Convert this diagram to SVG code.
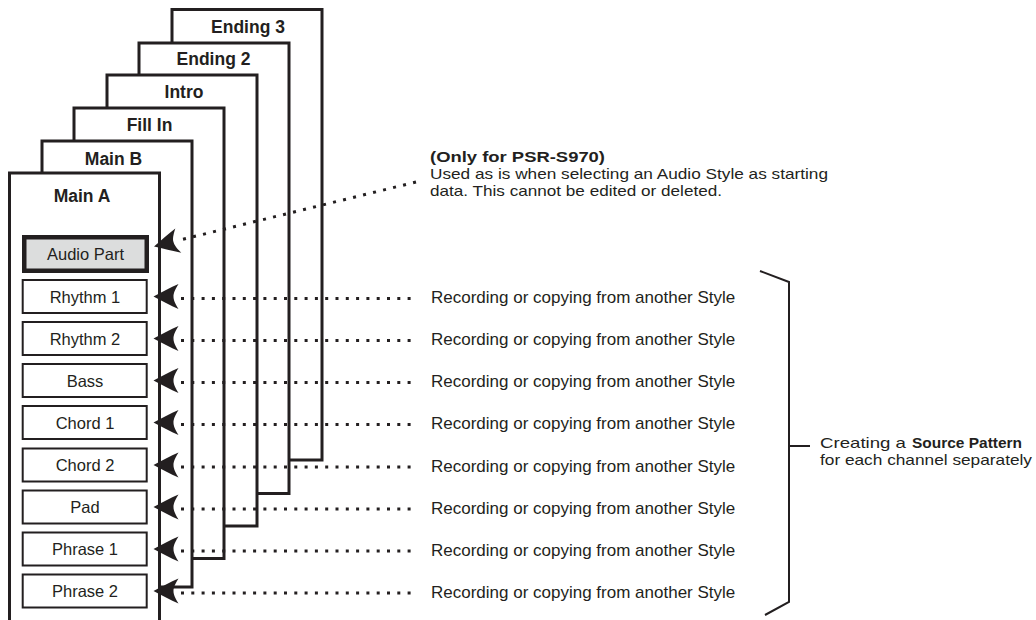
<svg xmlns="http://www.w3.org/2000/svg" xmlns:xlink="http://www.w3.org/1999/xlink" width="1036" height="620" viewBox="0 0 1036 620">
<style>
  .page { fill: #ffffff; stroke: #231f20; stroke-width: 3; }
  .title { font-family: "Liberation Sans", Arial, Helvetica, sans-serif; font-size: 17.5px; font-weight: bold; fill: #231f20; text-anchor: middle; }
  .box { fill: #ffffff; stroke: #231f20; stroke-width: 2; }
  .audio { fill: #dcdddd; stroke: #231f20; stroke-width: 4.5; }
  .blabel { font-family: "Liberation Sans", Arial, Helvetica, sans-serif; font-size: 16.5px; fill: #231f20; text-anchor: middle; }
  .dots { fill: none; stroke: #231f20; stroke-width: 3; stroke-dasharray: 3 7.3; }
  .rec { font-family: "Liberation Sans", Arial, Helvetica, sans-serif; font-size: 17px; fill: #231f20; }
  .note { font-family: "Liberation Sans", Arial, Helvetica, sans-serif; font-size: 15px; fill: #231f20; }
  .bold { font-weight: bold; }
  .bracket { fill: none; stroke: #231f20; stroke-width: 2; }
</style>
<defs>
  <path id="ah" d="M0,0 C8,-4 17,-9 25,-12.5 C21,-6 20,-3 20,0 C20,3 21,6 25,12.5 C17,9 8,4 0,0 Z" fill="#231f20"/>
</defs>
<rect width="1036" height="620" fill="#ffffff"/>

<g id="page-ending3"><rect class="page" x="172" y="9.5" width="150" height="450.5"/><text class="title" x="248" y="33">Ending 3</text></g>
<g id="page-ending2"><rect class="page" x="139" y="43" width="150" height="450.5"/><text class="title" x="213.5" y="65">Ending 2</text></g>
<g id="page-intro"><rect class="page" x="107" y="75" width="150" height="451"/><text class="title" x="184" y="98">Intro</text></g>
<g id="page-fillin"><rect class="page" x="74" y="108" width="150" height="450.5"/><text class="title" x="149.5" y="131">Fill In</text></g>
<g id="page-mainb"><rect class="page" x="42" y="141" width="150" height="446"/><text class="title" x="113.5" y="165">Main B</text></g>
<g id="page-maina"><rect class="page" x="9.5" y="173" width="150" height="470"/><text class="title" x="82" y="202">Main A</text></g>

<g id="box-audio"><rect class="audio" x="24.25" y="237.25" width="122.5" height="33.5"/><text class="blabel" x="85.5" y="260">Audio Part</text></g>
<g id="box-rhythm1"><rect class="box" x="22.7" y="280" width="124" height="33"/><text class="blabel" x="85" y="302.5">Rhythm 1</text></g>
<g id="box-rhythm2"><rect class="box" x="22.7" y="322" width="124" height="33"/><text class="blabel" x="85" y="344.5">Rhythm 2</text></g>
<g id="box-bass"><rect class="box" x="22.7" y="364" width="124" height="33"/><text class="blabel" x="85" y="386.5">Bass</text></g>
<g id="box-chord1"><rect class="box" x="22.7" y="406" width="124" height="33"/><text class="blabel" x="85" y="428.5">Chord 1</text></g>
<g id="box-chord2"><rect class="box" x="22.7" y="448.5" width="124" height="33"/><text class="blabel" x="85" y="471">Chord 2</text></g>
<g id="box-pad"><rect class="box" x="22.7" y="490.5" width="124" height="33"/><text class="blabel" x="85" y="513">Pad</text></g>
<g id="box-phrase1"><rect class="box" x="22.7" y="532.5" width="124" height="33"/><text class="blabel" x="85" y="555">Phrase 1</text></g>
<g id="box-phrase2"><rect class="box" x="22.7" y="574.5" width="124" height="33"/><text class="blabel" x="85" y="597">Phrase 2</text></g>

<g id="connectors">
  <path class="dots" d="M416,182 L180,240"/>
  <path class="dots" d="M181,298.5 H416"/>
  <path class="dots" d="M181,340.5 H416"/>
  <path class="dots" d="M181,382.5 H416"/>
  <path class="dots" d="M181,424.5 H416"/>
  <path class="dots" d="M181,467 H416"/>
  <path class="dots" d="M181,509 H416"/>
  <path class="dots" d="M181,551 H416"/>
  <path class="dots" d="M181,593 H416"/>
  <use xlink:href="#ah" href="#ah" transform="translate(154,246.5) rotate(-13.8)"/>
  <use xlink:href="#ah" href="#ah" transform="translate(153.5,296.5)"/>
  <use xlink:href="#ah" href="#ah" transform="translate(153.5,338.5)"/>
  <use xlink:href="#ah" href="#ah" transform="translate(153.5,380.5)"/>
  <use xlink:href="#ah" href="#ah" transform="translate(153.5,422.5)"/>
  <use xlink:href="#ah" href="#ah" transform="translate(153.5,465)"/>
  <use xlink:href="#ah" href="#ah" transform="translate(153.5,507)"/>
  <use xlink:href="#ah" href="#ah" transform="translate(153.5,549)"/>
  <use xlink:href="#ah" href="#ah" transform="translate(153.5,591)"/>
</g>

<g id="note-audio">
  <text class="note bold" x="430" y="162" textLength="175" lengthAdjust="spacingAndGlyphs">(Only for PSR-S970)</text>
  <text class="note" x="430" y="179" textLength="398" lengthAdjust="spacingAndGlyphs">Used as is when selecting an Audio Style as starting</text>
  <text class="note" x="430" y="196" textLength="292" lengthAdjust="spacingAndGlyphs">data. This cannot be edited or deleted.</text>
</g>

<g id="labels-recording">
  <text class="rec" x="431" y="303">Recording or copying from another Style</text>
  <text class="rec" x="431" y="345">Recording or copying from another Style</text>
  <text class="rec" x="431" y="387">Recording or copying from another Style</text>
  <text class="rec" x="431" y="429">Recording or copying from another Style</text>
  <text class="rec" x="431" y="471.5">Recording or copying from another Style</text>
  <text class="rec" x="431" y="513.5">Recording or copying from another Style</text>
  <text class="rec" x="431" y="555.5">Recording or copying from another Style</text>
  <text class="rec" x="431" y="597.5">Recording or copying from another Style</text>
</g>

<g id="bracket-source">
  <path class="bracket" d="M760,271 L789,282 L789,602 L765,615"/>
  <path class="bracket" d="M789,446 H810"/>
  <text class="note" x="820" y="447.5" textLength="86" lengthAdjust="spacingAndGlyphs">Creating a</text>
  <text class="note bold" x="912" y="447.5" textLength="110" lengthAdjust="spacingAndGlyphs">Source Pattern</text>
  <text class="note" x="820" y="464.5" textLength="212" lengthAdjust="spacingAndGlyphs">for each channel separately</text>
</g>
</svg>
